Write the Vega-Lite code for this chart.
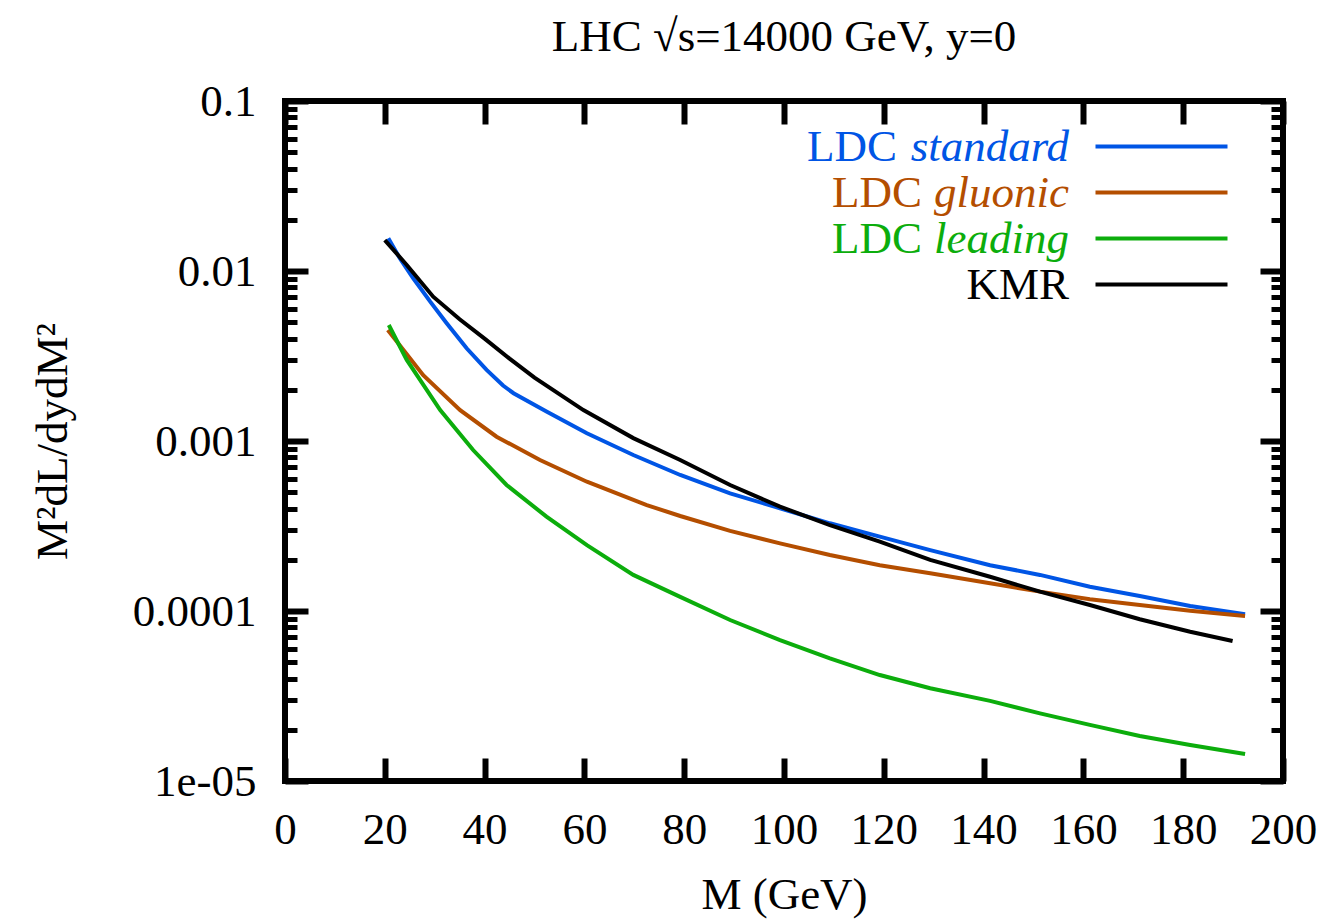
{
  "$schema": "https://vega.github.io/schema/vega-lite/v6.json",
  "width": 998,
  "height": 680,
  "autosize": {"type": "none"},
  "padding": {"left": 285, "top": 101, "right": 40, "bottom": 139},
  "background": "white",
  "title": {"text": "LHC √s=14000 GeV, y=0", "font": "Liberation Serif", "fontSize": 45, "fontWeight": "normal", "color": "black", "anchor": "middle", "offset": 19},
  "data": {"values": [
    {"M": 20.7, "v": 0.0156, "s": "LDC standard"},
    {"M": 23.0, "v": 0.0119, "s": "LDC standard"},
    {"M": 25.7, "v": 0.00906, "s": "LDC standard"},
    {"M": 29.1, "v": 0.0066, "s": "LDC standard"},
    {"M": 32.4, "v": 0.00493, "s": "LDC standard"},
    {"M": 36.4, "v": 0.00351, "s": "LDC standard"},
    {"M": 40.4, "v": 0.00262, "s": "LDC standard"},
    {"M": 43.7, "v": 0.00212, "s": "LDC standard"},
    {"M": 45.8, "v": 0.00191, "s": "LDC standard"},
    {"M": 52.4, "v": 0.00149, "s": "LDC standard"},
    {"M": 60.5, "v": 0.00111, "s": "LDC standard"},
    {"M": 69.8, "v": 0.000827, "s": "LDC standard"},
    {"M": 79.2, "v": 0.000631, "s": "LDC standard"},
    {"M": 89.2, "v": 0.000492, "s": "LDC standard"},
    {"M": 99.2, "v": 0.000402, "s": "LDC standard"},
    {"M": 109.2, "v": 0.000328, "s": "LDC standard"},
    {"M": 119.2, "v": 0.000274, "s": "LDC standard"},
    {"M": 129.3, "v": 0.000228, "s": "LDC standard"},
    {"M": 141.3, "v": 0.000186, "s": "LDC standard"},
    {"M": 151.3, "v": 0.000163, "s": "LDC standard"},
    {"M": 161.3, "v": 0.000139, "s": "LDC standard"},
    {"M": 171.3, "v": 0.0001225, "s": "LDC standard"},
    {"M": 181.4, "v": 0.000107, "s": "LDC standard"},
    {"M": 192.4, "v": 0.0000956, "s": "LDC standard"},
    {"M": 20.6, "v": 0.0045, "s": "LDC gluonic"},
    {"M": 27.7, "v": 0.00244, "s": "LDC gluonic"},
    {"M": 35.1, "v": 0.00152, "s": "LDC gluonic"},
    {"M": 42.4, "v": 0.00106, "s": "LDC gluonic"},
    {"M": 51.1, "v": 0.000773, "s": "LDC gluonic"},
    {"M": 60.5, "v": 0.000576, "s": "LDC gluonic"},
    {"M": 72.5, "v": 0.00042, "s": "LDC gluonic"},
    {"M": 79.2, "v": 0.000362, "s": "LDC gluonic"},
    {"M": 89.2, "v": 0.000296, "s": "LDC gluonic"},
    {"M": 99.2, "v": 0.00025, "s": "LDC gluonic"},
    {"M": 109.2, "v": 0.0002135, "s": "LDC gluonic"},
    {"M": 119.2, "v": 0.000186, "s": "LDC gluonic"},
    {"M": 129.3, "v": 0.0001667, "s": "LDC gluonic"},
    {"M": 141.3, "v": 0.0001455, "s": "LDC gluonic"},
    {"M": 151.3, "v": 0.00013, "s": "LDC gluonic"},
    {"M": 161.3, "v": 0.0001172, "s": "LDC gluonic"},
    {"M": 171.3, "v": 0.0001085, "s": "LDC gluonic"},
    {"M": 181.4, "v": 0.0001004, "s": "LDC gluonic"},
    {"M": 192.4, "v": 0.0000935, "s": "LDC gluonic"},
    {"M": 20.8, "v": 0.00481, "s": "LDC leading"},
    {"M": 24.4, "v": 0.0030, "s": "LDC leading"},
    {"M": 31.1, "v": 0.00152, "s": "LDC leading"},
    {"M": 37.7, "v": 0.000885, "s": "LDC leading"},
    {"M": 44.4, "v": 0.000551, "s": "LDC leading"},
    {"M": 52.4, "v": 0.000359, "s": "LDC leading"},
    {"M": 60.5, "v": 0.000244, "s": "LDC leading"},
    {"M": 69.8, "v": 0.000163, "s": "LDC leading"},
    {"M": 79.2, "v": 0.000121, "s": "LDC leading"},
    {"M": 89.2, "v": 0.0000885, "s": "LDC leading"},
    {"M": 99.2, "v": 0.0000675, "s": "LDC leading"},
    {"M": 109.2, "v": 0.0000527, "s": "LDC leading"},
    {"M": 119.2, "v": 0.000042, "s": "LDC leading"},
    {"M": 129.3, "v": 0.0000351, "s": "LDC leading"},
    {"M": 141.3, "v": 0.0000296, "s": "LDC leading"},
    {"M": 151.3, "v": 0.000025, "s": "LDC leading"},
    {"M": 161.3, "v": 0.0000214, "s": "LDC leading"},
    {"M": 171.3, "v": 0.0000184, "s": "LDC leading"},
    {"M": 181.4, "v": 0.0000163, "s": "LDC leading"},
    {"M": 192.4, "v": 0.0000144, "s": "LDC leading"},
    {"M": 20.0, "v": 0.0152, "s": "KMR"},
    {"M": 24.4, "v": 0.01085, "s": "KMR"},
    {"M": 29.7, "v": 0.00706, "s": "KMR"},
    {"M": 35.0, "v": 0.0052, "s": "KMR"},
    {"M": 40.0, "v": 0.0040, "s": "KMR"},
    {"M": 45.0, "v": 0.00305, "s": "KMR"},
    {"M": 50.0, "v": 0.00236, "s": "KMR"},
    {"M": 59.8, "v": 0.00152, "s": "KMR"},
    {"M": 69.8, "v": 0.00104, "s": "KMR"},
    {"M": 79.2, "v": 0.000773, "s": "KMR"},
    {"M": 89.2, "v": 0.000551, "s": "KMR"},
    {"M": 99.2, "v": 0.000411, "s": "KMR"},
    {"M": 109.2, "v": 0.00032, "s": "KMR"},
    {"M": 119.2, "v": 0.000256, "s": "KMR"},
    {"M": 129.3, "v": 0.0002, "s": "KMR"},
    {"M": 141.3, "v": 0.000159, "s": "KMR"},
    {"M": 151.3, "v": 0.00013, "s": "KMR"},
    {"M": 161.3, "v": 0.0001085, "s": "KMR"},
    {"M": 171.3, "v": 0.0000894, "s": "KMR"},
    {"M": 181.4, "v": 0.0000755, "s": "KMR"},
    {"M": 189.9, "v": 0.0000666, "s": "KMR"}
  ]},
  "layer": [
    {
      "mark": {"type": "line", "strokeWidth": 4, "clip": true},
      "encoding": {
        "x": {"field": "M", "type": "quantitative",
          "scale": {"domain": [0, 200], "nice": false, "zero": false},
          "axis": {"orient": "bottom", "values": [0, 20, 40, 60, 80, 100, 120, 140, 160, 180, 200], "tickSize": -23, "tickWidth": 6, "labelPadding": 49, "labelOverlap": false, "labelFlush": false, "title": "M (GeV)", "titlePadding": 20, "domain": false}},
        "y": {"field": "v", "type": "quantitative",
          "scale": {"type": "log", "domain": [0.00001, 0.1], "nice": false},
          "axis": {"orient": "left", "values": [0.00001, 0.0001, 0.001, 0.01, 0.1], "labelExpr": "datum.value < 0.00005 ? '1e-05' : datum.value < 0.0005 ? '0.0001' : datum.value < 0.005 ? '0.001' : datum.value < 0.05 ? '0.01' : '0.1'", "tickSize": -23, "tickWidth": 6, "labelPadding": 52, "labelOverlap": false, "labelFlush": false, "title": "M²dL/dydM²", "titlePadding": 57, "domain": false}},
        "color": {"field": "s", "type": "nominal",
          "scale": {"domain": ["LDC standard", "LDC gluonic", "LDC leading", "KMR"], "range": ["#0055e5", "#b44e00", "#0cad0c", "#000000"]},
          "legend": {"orient": "none", "legendX": 854, "legendY": 23, "title": null, "symbolType": "M-6,0H6", "symbolSize": 484, "symbolStrokeWidth": 4, "symbolFillColor": "transparent", "labelFont": "Liberation Serif", "labelFontSize": 45, "labelAlign": "right", "labelOffset": -115, "labelLimit": 500, "rowPadding": -0.7, "padding": 0,
            "labelExpr": "datum.value == 'KMR' ? 'KMR' : replace(datum.value, 'LDC ', '')",
            "labelColor": {"expr": "scale('color', datum.value)"},
            "labelFontStyle": {"expr": "datum.value == 'KMR' ? 'normal' : 'italic'"}}}
      }
    },
    {
      "transform": [{"filter": "datum.s != 'KMR'"}],
      "mark": {"type": "line", "opacity": 0},
      "encoding": {
        "x": {"field": "M", "type": "quantitative", "axis": {"orient": "top", "values": [0, 20, 40, 60, 80, 100, 120, 140, 160, 180, 200], "tickSize": -23, "tickWidth": 6, "labels": false, "title": null, "domain": false}},
        "y": {"field": "v", "type": "quantitative", "axis": {"orient": "right", "values": [0.00001, 0.0001, 0.001, 0.01, 0.1], "tickSize": -23, "tickWidth": 6, "labels": false, "title": null, "domain": false}},
        "strokeDash": {"field": "s", "type": "nominal",
          "scale": {"domain": ["LDC standard", "LDC gluonic", "LDC leading"], "range": [[1, 0], [1, 0], [1, 0]]},
          "legend": {"orient": "none", "legendX": 854, "legendY": 23, "title": null, "symbolType": "M-6,0H6", "symbolSize": 484, "symbolStrokeWidth": 4, "symbolOpacity": 0, "labelFont": "Liberation Serif", "labelFontSize": 45, "labelAlign": "right", "labelLimit": 500, "rowPadding": -0.7, "padding": 0,
            "labelOffset": {"expr": "datum.value == 'LDC standard' ? -287 : -262"},
            "labelColor": {"expr": "scale('color', datum.value)"},
            "labelExpr": "'LDC'"}}
      }
    },
    {
      "mark": {"type": "line", "opacity": 0},
      "encoding": {
        "x": {"field": "M", "type": "quantitative", "axis": null},
        "y": {"field": "v", "type": "quantitative", "axis": {"orient": "left", "values": [0.00002, 0.00003, 0.00004, 0.00005, 0.00006, 0.00007, 0.00008, 0.00009, 0.0002, 0.0003, 0.0004, 0.0005, 0.0006, 0.0007, 0.0008, 0.0009, 0.002, 0.003, 0.004, 0.005, 0.006, 0.007, 0.008, 0.009, 0.02, 0.03, 0.04, 0.05, 0.06, 0.07, 0.08, 0.09], "tickSize": -12, "tickWidth": 5, "labels": false, "title": null, "domain": false}},
        "detail": {"field": "s"}
      }
    },
    {
      "mark": {"type": "line", "opacity": 0},
      "encoding": {
        "x": {"field": "M", "type": "quantitative", "axis": null},
        "y": {"field": "v", "type": "quantitative", "axis": {"orient": "right", "values": [0.00002, 0.00003, 0.00004, 0.00005, 0.00006, 0.00007, 0.00008, 0.00009, 0.0002, 0.0003, 0.0004, 0.0005, 0.0006, 0.0007, 0.0008, 0.0009, 0.002, 0.003, 0.004, 0.005, 0.006, 0.007, 0.008, 0.009, 0.02, 0.03, 0.04, 0.05, 0.06, 0.07, 0.08, 0.09], "tickSize": -12, "tickWidth": 5, "labels": false, "title": null, "domain": false}},
        "detail": {"field": "s"}
      }
    }
  ],
  "resolve": {"axis": {"x": "independent", "y": "independent"}},
  "config": {
    "view": {"stroke": "black", "strokeWidth": 6},
    "axis": {"grid": false, "labelFont": "Liberation Serif", "titleFont": "Liberation Serif", "labelFontSize": 45, "titleFontSize": 45, "titleFontWeight": "normal", "labelColor": "black", "titleColor": "black", "tickColor": "black"}
  }
}
